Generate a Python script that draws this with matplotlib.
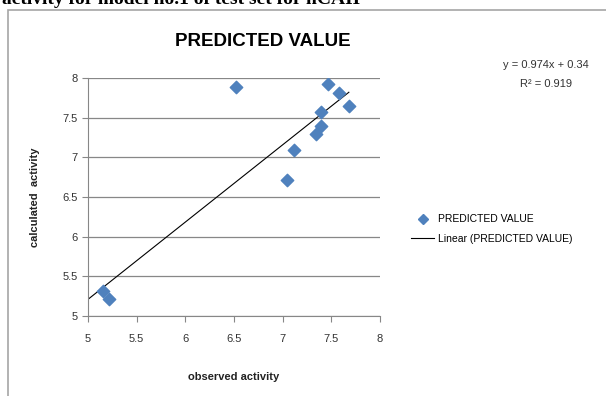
import matplotlib.pyplot as plt
from matplotlib.patches import Rectangle
from matplotlib.lines import Line2D

observed = [5.15, 5.22, 6.52, 7.04, 7.12, 7.34, 7.39, 7.39, 7.47, 7.58, 7.68]
calculated = [5.32, 5.21, 7.89, 6.72, 7.09, 7.29, 7.39, 7.57, 7.92, 7.81, 7.65]
slope = 0.974
intercept = 0.34
r2 = 0.919
ticks = [5, 5.5, 6, 6.5, 7, 7.5, 8]

plt.rcParams['font.family'] = ['Liberation Sans', 'DejaVu Sans']

fig = plt.figure(figsize=(6.06, 3.96), dpi=100)
W, H = 606, 396

# caption line above the chart, cut off at the top as in the scan
fig.text(2 / W, 1 + 1 / H, "activity for model no.1 of test set for hCAII",
         family=['Liberation Serif', 'DejaVu Serif'], fontweight='bold',
         fontsize=14, va='center', ha='left')

# chart frame
fig.patches.append(Rectangle((8 / W, -0.1), 1.0, 1 - 10 / H + 0.1,
                             transform=fig.transFigure, fill=False,
                             edgecolor='#a6a6a6', linewidth=1.2))

ax = fig.add_axes([88 / W, 1 - 316 / H, (380 - 88) / W, (316 - 78) / H])
ax.scatter(observed, calculated, marker='D', s=40, color='#4f81bd', zorder=3)
xs = [5, max(observed)]
ax.plot(xs, [slope * x + intercept for x in xs], color='black', lw=0.8, zorder=2)

ax.set_xlim(5, 8)
ax.set_ylim(5, 8)
ax.set_xticks(ticks)
ax.set_yticks(ticks)
ax.set_xticklabels([f"{t:g}" for t in ticks])
ax.set_yticklabels([f"{t:g}" for t in ticks])
ax.grid(axis='y', color='#878787', lw=0.9)
ax.set_axisbelow(True)
for s in ['top', 'right']:
    ax.spines[s].set_visible(False)
for s in ['left', 'bottom']:
    ax.spines[s].set_color('#878787')
ax.tick_params(axis='both', colors='#878787', labelcolor='#333333', labelsize=8, length=4)
ax.tick_params(axis='x', pad=9)

ax.set_xlabel("observed activity", fontsize=8, fontweight='bold', labelpad=20, color='#222222')
ax.set_ylabel("calculated  activity", fontsize=8, fontweight='bold', labelpad=16, color='#222222')

fig.text(263 / W, 1 - 42 / H, "PREDICTED VALUE", fontsize=13.5, fontweight='bold',
         ha='center', va='center')

fig.text(546 / W, 1 - 65 / H, f"y = {slope}x + {intercept}", fontsize=8,
         ha='center', va='center', color='#333333')
fig.text(546 / W, 1 - 84 / H, f"R² = {r2}", fontsize=8,
         ha='center', va='center', color='#333333')

handles = [Line2D([], [], marker='D', ls='none', color='#4f81bd', markersize=5.5),
           Line2D([], [], color='black', lw=0.8)]
fig.legend(handles, ["PREDICTED VALUE", "Linear (PREDICTED VALUE)"],
           loc='upper left', bbox_to_anchor=(402 / W, 1 - 205 / H),
           frameon=False, fontsize=7.5, handlelength=2.2, handletextpad=0.4,
           labelspacing=0.9)

fig.savefig("out.png", dpi=100)
